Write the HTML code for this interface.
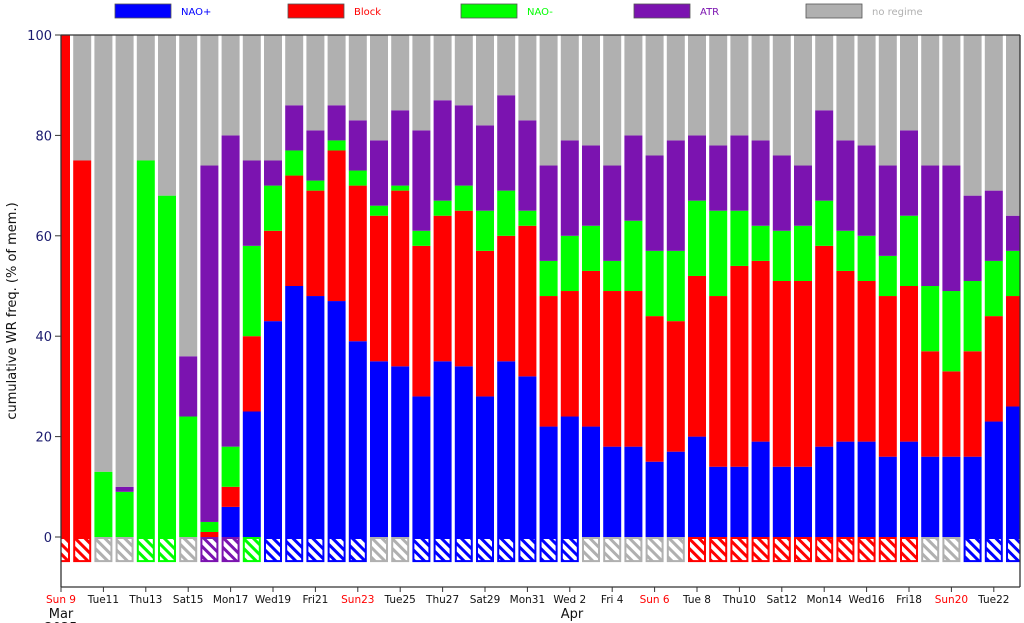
<!DOCTYPE html>
<html><head><meta charset="utf-8"><style>
body{margin:0;background:#fff;}
svg{display:block;font-family:"DejaVu Sans","Liberation Sans",sans-serif;}
</style></head><body>
<svg id="chart" width="1024" height="623">
<defs>
<clipPath id="plotclip"><rect x="61" y="35" width="959" height="552"/></clipPath>
</defs>
<g id="legend"></g>
<g id="bars" clip-path="url(#plotclip)"></g>
<g id="axes"></g>
</svg>
<script>
const days = ["Sun 9","Mon10","Tue11","Wed12","Thu13","Fri14","Sat15","Sun16","Mon17","Tue18","Wed19","Thu20","Fri21","Sat22","Sun23","Mon24","Tue25","Wed26","Thu27","Fri28","Sat29","Sun30","Mon31","Tue 1","Wed 2","Thu 3","Fri 4","Sat 5","Sun 6","Mon 7","Tue 8","Wed 9","Thu10","Fri11","Sat12","Sun13","Mon14","Tue15","Wed16","Thu17","Fri18","Sat19","Sun20","Mon21","Tue22","Wed23"];
const naoPlus = [0,0,0,0,0,0,0,0,6,25,43,50,48,47,39,35,34,28,35,34,28,35,32,22,24,22,18,18,15,17,20,14,14,19,14,14,18,19,19,16,19,16,16,16,23,26];
const block   = [100,75,0,0,0,0,0,1,4,15,18,22,21,30,31,29,35,30,29,31,29,25,30,26,25,31,31,31,29,26,32,34,40,36,37,37,40,34,32,32,31,21,17,21,21,22];
const naoMinus= [0,0,13,9,75,68,24,2,8,18,9,5,2,2,3,2,1,3,3,5,8,9,3,7,11,9,6,14,13,14,15,17,11,7,10,11,9,8,9,8,14,13,16,14,11,9];
const atr     = [0,0,0,1,0,0,12,71,62,17,5,9,10,7,10,13,15,20,20,16,17,19,18,19,19,16,19,17,19,22,13,13,15,17,15,12,18,18,18,18,17,24,25,17,14,7];
const regimeLabel = ["Block","Block","none","none","NAO-","NAO-","none","ATR","ATR","NAO-","NAO+","NAO+","NAO+","NAO+","NAO+","none","none","NAO+","NAO+","NAO+","NAO+","NAO+","NAO+","NAO+","NAO+","none","none","none","none","none","Block","Block","Block","Block","Block","Block","Block","Block","Block","Block","Block","none","none","NAO+","NAO+","NAO+"];
const yTicks = [0,20,40,60,80,100];
const regimeNames = ["NAO+","Block","NAO-","ATR","no regime"];

const colors = {"NAO+":"#0000ff","Block":"#ff0000","NAO-":"#00ff00","ATR":"#7b13b0","none":"#b0b0b0","no regime":"#b0b0b0"};
const NS="http://www.w3.org/2000/svg";
const svg=document.getElementById('chart');
const x0=61, dx=21.2, bw=18;
const y=v=>537-v*5.02;
const xc=i=>x0+i*dx;
function mk(tag,attrs,parent){const e=document.createElementNS(NS,tag);for(const k in attrs)e.setAttribute(k,attrs[k]);parent.appendChild(e);return e;}
const defs=svg.querySelector('defs');
Object.entries({nao:"#0000ff",blk:"#ff0000",nm:"#00ff00",atr:"#7b13b0",gr:"#b0b0b0"}).forEach(([k,c])=>{
  const p=mk('pattern',{id:'h_'+k,patternUnits:'userSpaceOnUse',width:7,height:7,patternTransform:'rotate(-45)'},defs);
  mk('rect',{x:0,y:0,width:7,height:7,fill:'#fff'},p);
  mk('rect',{x:0,y:0,width:3,height:7,fill:c},p);
});
const patKey={"NAO+":"nao","Block":"blk","NAO-":"nm","ATR":"atr","none":"gr"};
const bars=document.getElementById('bars');
days.forEach((d,i)=>{
  const g=mk('g',{},bars);
  
  
  const segs=[[naoPlus[i],colors["NAO+"]],[block[i],colors["Block"]],[naoMinus[i],colors["NAO-"]],[atr[i],colors["ATR"]]];
  let cum=0;
  segs.forEach(([v,c])=>{ if(v>0){ mk('rect',{x:xc(i)-bw/2,y:y(cum+v),width:bw,height:v*5.02,fill:c},g);} cum+=v; });
  if(cum<100){ mk('rect',{x:xc(i)-bw/2,y:y(100),width:bw,height:(100-cum)*5.02,fill:'#b0b0b0'},g); }
  const rl=regimeLabel[i];
  const h=mk('rect',{x:xc(i)-bw/2+1,y:y(0)+1,width:bw-2,height:5*5.02-2,fill:'url(#h_'+patKey[rl]+')',stroke:colors[rl],'stroke-width':2},g);
  
  
});
const ax=document.getElementById('axes');
mk('line',{x1:61,y1:35,x2:61,y2:587,stroke:'#333','stroke-width':1.3},ax);
mk('line',{x1:61,y1:587,x2:1020,y2:587,stroke:'#333','stroke-width':1.3},ax);
mk('line',{x1:61,y1:35,x2:1020,y2:35,stroke:'#333','stroke-width':1.3},ax);
mk('line',{x1:1020,y1:35,x2:1020,y2:587,stroke:'#333','stroke-width':1.3},ax);
yTicks.forEach(t=>{
  mk('line',{x1:55,y1:y(t),x2:61,y2:y(t),stroke:'#333'},ax);
  const tx=mk('text',{x:52,y:y(t)+5,'text-anchor':'end','font-size':13,fill:'#1a1a6e'},ax);
  tx.textContent=t;
  
  
});
days.forEach((d,i)=>{
  if(i%2) return;
  mk('line',{x1:xc(i),y1:587,x2:xc(i),y2:592,stroke:'#333'},ax);
  const tx=mk('text',{x:xc(i),y:603,'text-anchor':'middle','font-size':10.5,fill:d.startsWith('Sun')?'#ff0000':'#111'},ax);
  tx.textContent=d;
  
  
});
[["Mar",61],["Apr",572]].forEach(([m,xp])=>{
  const t=mk('text',{x:xp,y:618,'text-anchor':'middle','font-size':13,fill:'#111'},ax);
  t.textContent=m;
  
  
});
const yr=mk('text',{x:61,y:632,'text-anchor':'middle','font-size':13,fill:'#111'},ax);
yr.textContent='2025';


const yl=mk('text',{x:0,y:0,transform:'translate(16,311) rotate(-90)','text-anchor':'middle','font-size':13,fill:'#111'},ax);
yl.textContent='cumulative WR freq. (% of mem.)';


const lg=document.getElementById('legend');
const lx=[115,288,461,634,806];
const txtCol=["#0000ff","#ff0000","#00ff00","#7b13b0","#b0b0b0"];
regimeNames.forEach((n,i)=>{
  const g=mk('g',{},lg);
  
  
  mk('rect',{x:lx[i],y:4,width:56,height:14,fill:colors[n],stroke:'#555','stroke-width':0.8},g);
  const t=mk('text',{x:lx[i]+66,y:15,'font-size':10,fill:txtCol[i]},g);
  t.textContent=n;
});
</script>
</body></html>
